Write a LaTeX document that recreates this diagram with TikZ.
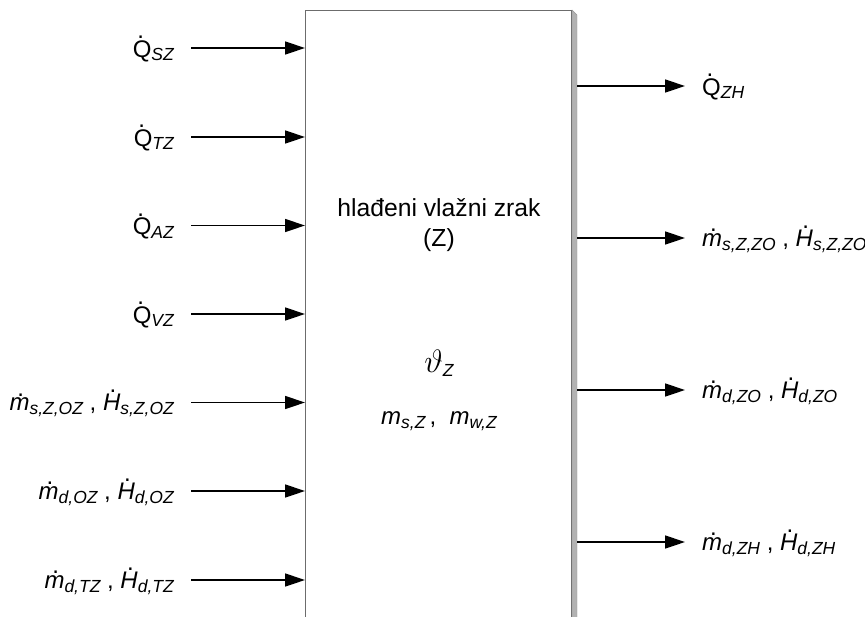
\documentclass[tikz,border=0pt]{standalone}
\usepackage{fontspec}
\setmainfont{Liberation Sans}
\usetikzlibrary{arrows.meta}
\newcommand\dt[2][0pt]{\leavevmode\setbox0\hbox{#2}\rlap{\hbox to\wd0{\hss\kern#1\raisebox{\dimexpr\ht0+1.5pt\relax}{.}\hss}}\box0}
\newcommand\sbs[1]{\raisebox{-0.3ex}{\fontsize{17.5}{18}\selectfont\itshape #1}}
\newcommand\mi[1]{\dt[2.5pt]{\itshape #1}}
\newcommand\qd{\dt[-3pt]{Q}}
\tikzset{
  lbl/.style={inner sep=0pt, font=\fontsize{24}{30}\selectfont},
  arr/.style={line width=1.4pt, -{Triangle[length=20pt,width=13pt]}},
  boxst/.style={draw=gray!85!black, line width=1pt, fill=white, minimum width=266pt, minimum height=640pt, inner sep=0pt}
}
\begin{document}
\begin{tikzpicture}[x=1pt,y=-1pt]
\useasboundingbox (0,0) rectangle (865,616);
\clip (0,0) rectangle (865,616);
\node[boxst, anchor=north west] (box) at (305,10) {};
\fill[gray!60, draw=gray!80] (box.north east) -- ++(5,5) -- ++(0,640) -- ++(-5,0) -- cycle;
% box texts
\node[lbl, align=center, font=\fontsize{24.7}{30}\selectfont] (title) at (439,225) {hlađeni vlažni zrak\\(Z)};
\node[lbl] (theta) at (439,363) {\scalebox{1.3}{$\vartheta$}\sbs{Z}};
\node[lbl] (mass) at (439,421) {\textit{m}\sbs{s,Z}\,,\ \ \textit{m}\sbs{w,Z}};
% inputs
\foreach \i/\y/\t in {
  1/48/{\qd\sbs{SZ}},
  2/137/{\qd\sbs{TZ}},
  3/225.5/{\qd\sbs{AZ}},
  4/314/{\qd\sbs{VZ}},
  5/402.5/{\mi{m}\sbs{s,Z,OZ}\ ,\ \mi{H}\sbs{s,Z,OZ}},
  6/491/{\mi{m}\sbs{d,OZ}\ ,\ \mi{H}\sbs{d,OZ}},
  7/580/{\mi{m}\sbs{d,TZ}\ ,\ \mi{H}\sbs{d,TZ}}} {
  \coordinate (i\i) at (191,\y);
  \node[lbl, anchor=east] (li\i) at ([xshift=-17pt, yshift=-1pt]i\i) {\t};
  \draw[arr] (i\i) -- (i\i -| box.west);
}
% outputs
\foreach \i/\y/\t in {
  1/86/{\qd\sbs{ZH}},
  2/238/{\mi{m}\sbs{s,Z,ZO}\ ,\ \mi{H}\sbs{s,Z,ZO}},
  3/390/{\mi{m}\sbs{d,ZO}\ ,\ \mi{H}\sbs{d,ZO}},
  4/542/{\mi{m}\sbs{d,ZH}\ ,\ \mi{H}\sbs{d,ZH}}} {
  \coordinate (o\i) at (685,\y);
  \node[lbl, anchor=west] (lo\i) at ([xshift=17pt, yshift=-1pt]o\i) {\t};
  \draw[arr] ([xshift=5pt]o\i -| box.east) -- (o\i);
}
\end{tikzpicture}
\end{document}
